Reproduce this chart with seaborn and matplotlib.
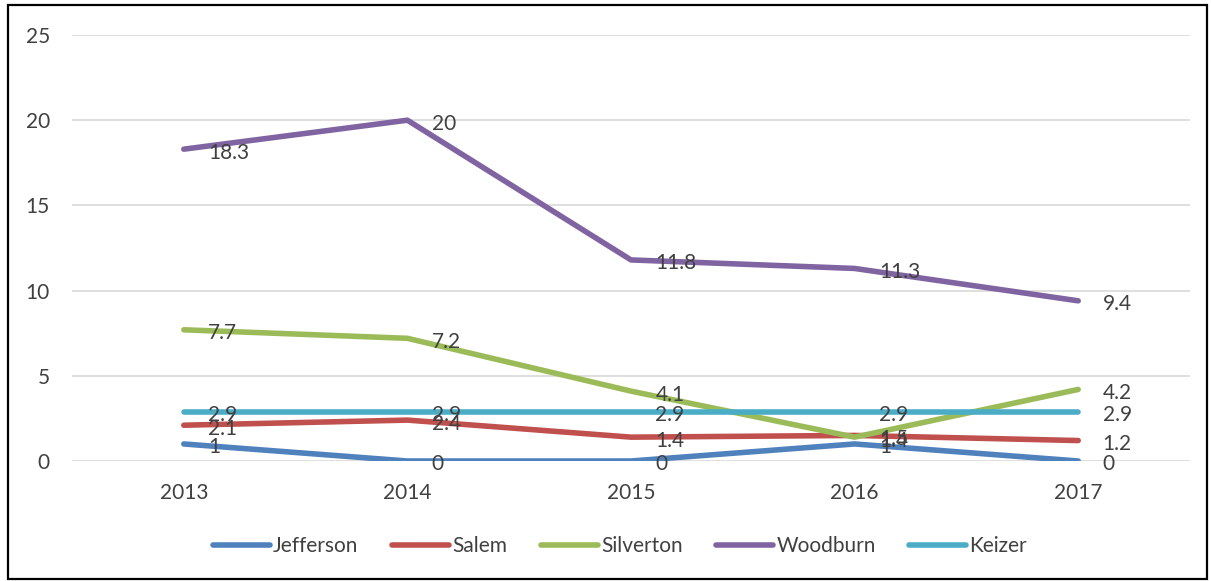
import matplotlib
matplotlib.use("Agg")
import matplotlib.pyplot as plt
import seaborn as sns
import pandas as pd
from matplotlib.patches import Rectangle

years = ["2013", "2014", "2015", "2016", "2017"]
jefferson = [1, 0, 0, 1, 0]
salem = [2.1, 2.4, 1.4, 1.5, 1.2]
silverton = [7.7, 7.2, 4.1, 1.4, 4.2]
woodburn = [18.3, 20, 11.8, 11.3, 9.4]
keizer = [2.9, 2.9, 2.9, 2.9, 2.9]

series_names = ["Jefferson", "Salem", "Silverton", "Woodburn", "Keizer"]
series_values = [jefferson, salem, silverton, woodburn, keizer]
colors = ["#4F81BD", "#C0504D", "#9BBB59", "#8064A2", "#4BACC6"]

rows = []
for name, vals in zip(series_names, series_values):
    for i, (yr, v) in enumerate(zip(years, vals)):
        rows.append({"pos": i, "year": yr, "city": name, "value": v})
df = pd.DataFrame(rows)

sns.set_theme(style="white")
plt.rcParams["font.family"] = ["Lato", "DejaVu Sans"]
text_color = "#404040"
fs = 15

fig = plt.figure(figsize=(12.11, 5.81), dpi=100)
ax = fig.add_axes([72 / 1211, 1 - 461 / 581, (1190 - 72) / 1211, (461 - 35) / 581])

sns.lineplot(data=df, x="pos", y="value", hue="city", hue_order=series_names,
             palette=colors, linewidth=4.0, ax=ax, legend=True,
             solid_capstyle="round")

# value labels to the right of each point
for name, vals in zip(series_names, series_values):
    for i, v in enumerate(vals):
        ax.annotate(f"{v:g}", xy=(i, v), xytext=(17.5, -2.5), textcoords="offset points",
                    ha="left", va="center", fontsize=fs, color=text_color, zorder=5)

ax.set_xlim(-0.5, len(years) - 0.5)
ax.set_ylim(0, 25)
ax.set_xticks(range(len(years)))
ax.set_xticklabels(years)
ax.set_yticks([0, 5, 10, 15, 20, 25])
ax.set_xlabel("")
ax.set_ylabel("")
ax.grid(axis="y", color="#D9D9D9", linewidth=1.2)
ax.grid(axis="x", visible=False)
ax.set_axisbelow(True)
for s in ax.spines.values():
    s.set_visible(False)
ax.tick_params(axis="x", length=0, pad=16, labelsize=fs, labelcolor=text_color)
ax.tick_params(axis="y", length=0, pad=16, labelsize=fs, labelcolor=text_color)

handles, labels = ax.get_legend_handles_labels()
ax.legend_.remove()
leg = fig.legend(handles, labels, loc="center", bbox_to_anchor=(620 / 1211, 1 - 546 / 581),
                 ncol=5, frameon=False, fontsize=fs, handlelength=2.75, handletextpad=0.15,
                 columnspacing=1.6, labelcolor=text_color)
for h in leg.get_lines():
    h.set_linewidth(4.0)
    h.set_solid_capstyle("round")

fig.patches.append(Rectangle((8 / 1211, 2 / 581), (1207 - 8) / 1211, (576 - 2) / 581,
                             transform=fig.transFigure, fill=False,
                             edgecolor="black", linewidth=1.6))

fig.savefig("out.png", dpi=100)
